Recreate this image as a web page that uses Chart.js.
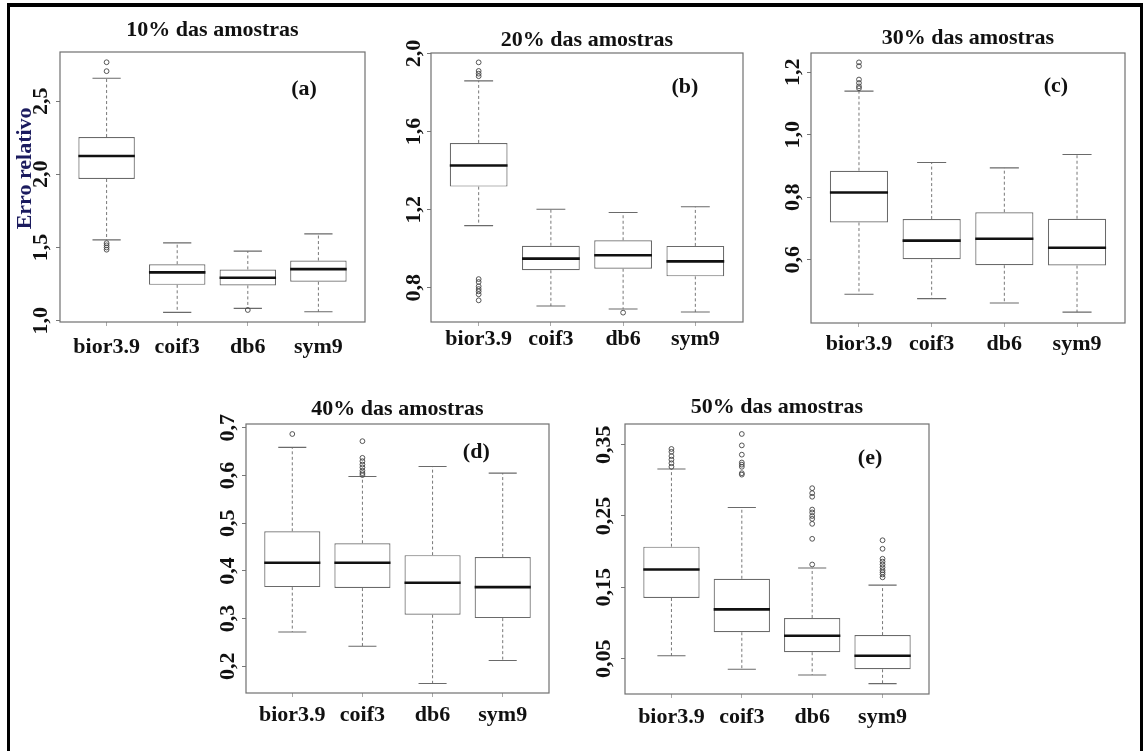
<!DOCTYPE html>
<html>
<head>
<meta charset="utf-8">
<script src="https://cdn.jsdelivr.net/npm/chart.js@4.4.0/dist/chart.umd.min.js"></script>
<style>
  html, body { margin: 0; padding: 0; background: #fff; }
  body { position: relative; width: 1143px; height: 751px; overflow: hidden; }
  #frame {
    position: absolute; left: 7px; top: 3px; right: 0; bottom: -10px;
    border-style: solid; border-color: #000; border-width: 4px 3px 0 3px;
  }
  canvas { position: absolute; }
</style>
</head>
<body>
<div id="frame"></div>

<script>
var categories = ['bior3.9', 'coif3', 'db6', 'sym9'];

// 10% das amostras
var lo10 = [1.552, 1.057, 1.084, 1.061];
var q1_10 = [1.968, 1.245, 1.241, 1.266];
var med10 = [2.125, 1.330, 1.293, 1.352];
var q3_10 = [2.255, 1.386, 1.350, 1.411];
var hi10 = [2.657, 1.532, 1.475, 1.593];
var out10 = [[2.766, 2.705, 1.530, 1.515, 1.500, 1.485], [], [1.073], []];
var ticks10 = [1.0, 1.5, 2.0, 2.5];

// 20% das amostras
var lo20 = [1.118, 0.706, 0.691, 0.675];
var q1_20 = [1.318, 0.889, 0.897, 0.858];
var med20 = [1.426, 0.949, 0.966, 0.935];
var q3_20 = [1.542, 1.015, 1.043, 1.014];
var hi20 = [1.860, 1.202, 1.185, 1.215];
var out20 = [[1.955, 1.911, 1.897, 1.884, 0.844, 0.829, 0.807, 0.793, 0.781, 0.766, 0.735], [], [0.672], []];
var ticks20 = [0.8, 1.2, 1.6, 2.0];

// 30% das amostras
var lo30 = [0.489, 0.475, 0.461, 0.432];
var q1_30 = [0.719, 0.601, 0.582, 0.581];
var med30 = [0.815, 0.661, 0.667, 0.638];
var q3_30 = [0.885, 0.730, 0.752, 0.731];
var hi30 = [1.140, 0.911, 0.894, 0.937];
var out30 = [[1.232, 1.220, 1.177, 1.166, 1.155, 1.149], [], [], []];
var ticks30 = [0.6, 0.8, 1.0, 1.2];

// 40% das amostras
var lo40 = [0.272, 0.242, 0.164, 0.212];
var q1_40 = [0.366, 0.364, 0.308, 0.301];
var med40 = [0.417, 0.417, 0.375, 0.366];
var q3_40 = [0.483, 0.458, 0.433, 0.429];
var hi40 = [0.659, 0.598, 0.619, 0.605];
var out40 = [[0.687], [0.672, 0.637, 0.630, 0.623, 0.617, 0.610, 0.605, 0.601], [], []];
var ticks40 = [0.2, 0.3, 0.4, 0.5, 0.6, 0.7];

// 50% das amostras
var lo50 = [0.054, 0.035, 0.027, 0.015];
var q1_50 = [0.135, 0.087, 0.059, 0.035];
var med50 = [0.175, 0.119, 0.082, 0.054];
var q3_50 = [0.207, 0.162, 0.107, 0.083];
var hi50 = [0.316, 0.262, 0.177, 0.153];
var out50 = [
  [0.344, 0.340, 0.334, 0.329, 0.324, 0.319],
  [0.365, 0.349, 0.336, 0.325, 0.322, 0.319, 0.310, 0.308],
  [0.289, 0.282, 0.277, 0.259, 0.255, 0.250, 0.246, 0.239, 0.218, 0.182],
  [0.216, 0.204, 0.190, 0.186, 0.182, 0.178, 0.174, 0.171, 0.168, 0.164]
];
var ticks50 = [0.05, 0.15, 0.25, 0.35];

var panelData = [
  { title: '10% das amostras', letter: '(a)', lo: lo10, q1: q1_10, med: med10, q3: q3_10, hi: hi10, out: out10, ticks: ticks10, ymin: 0.991, ymax: 2.836, dec: 1, ylabel: 'Erro relativo' },
  { title: '20% das amostras', letter: '(b)', lo: lo20, q1: q1_20, med: med20, q3: q3_20, hi: hi20, out: out20, ticks: ticks20, ymin: 0.624, ymax: 2.003, dec: 1 },
  { title: '30% das amostras', letter: '(c)', lo: lo30, q1: q1_30, med: med30, q3: q3_30, hi: hi30, out: out30, ticks: ticks30, ymin: 0.397, ymax: 1.262, dec: 1 },
  { title: '40% das amostras', letter: '(d)', lo: lo40, q1: q1_40, med: med40, q3: q3_40, hi: hi40, out: out40, ticks: ticks40, ymin: 0.144, ymax: 0.708, dec: 1 },
  { title: '50% das amostras', letter: '(e)', lo: lo50, q1: q1_50, med: med50, q3: q3_50, hi: hi50, out: out50, ticks: ticks50, ymin: 0.0004, ymax: 0.379, dec: 2 }
];

// page layout: plot box [left, top, right, bottom] in page pixels
var panelLayout = [
  { box: [60, 52, 365, 322], titleY: 30, yGap: 18.3, xPad: 8, letterAt: [0.80, 0.14] },
  { box: [431, 53, 743, 322], titleY: 40, yGap: 16.8, xPad: 0.5, letterAt: [0.814, 0.128] },
  { box: [811, 53, 1125, 323], titleY: 38, yGap: 17.7, xPad: 4, letterAt: [0.78, 0.123] },
  { box: [246, 424, 549, 693], titleY: 409, yGap: 17.9, xPad: 5, letterAt: [0.76, 0.107] },
  { box: [625, 424, 929, 694], titleY: 407, yGap: 20.3, xPad: 6, letterAt: [0.806, 0.126] }
];

var SERIF = '"Liberation Serif", "Times New Roman", serif';
var YW = 50, TOPH = 50, XH = 45, RP = 10, TICKLEN = 4;
var BOXW = 0.8, CAPW = 0.2, MEDW = 0.4;

var measureCtx = document.createElement('canvas').getContext('2d');
function widest(labels) {
  measureCtx.font = 'bold 22px ' + SERIF;
  var w = 0;
  labels.forEach(function (t) { w = Math.max(w, measureCtx.measureText(t).width); });
  return w;
}

function fmt(v, dec) {
  return v.toFixed(dec).replace('.', ',');
}

var framePlugin = {
  id: 'frame',
  afterDatasetsDraw: function (chart, args, opts) {
    var ctx = chart.ctx;
    var a = chart.chartArea;
    ctx.save();
    ctx.strokeStyle = '#707070';
    ctx.lineWidth = 1.2;
    ctx.strokeRect(a.left, a.top, a.right - a.left, a.bottom - a.top);
    ctx.font = 'bold 22px ' + SERIF;
    ctx.fillStyle = '#111';
    ctx.textAlign = 'center';
    ctx.textBaseline = 'middle';
    ctx.fillText(opts.letter, a.left + opts.at[0] * (a.right - a.left), a.top + opts.at[1] * (a.bottom - a.top));
    if (opts.ylabel) {
      ctx.translate(a.left - 35, a.top + 0.431 * (a.bottom - a.top));
      ctx.rotate(-Math.PI / 2);
      ctx.fillStyle = '#1b1b5e';
      ctx.fillText(opts.ylabel, 0, 0);
    }
    ctx.restore();
  }
};

function makePanel(d, lay) {
  var L = lay.box[0], T = lay.box[1], R = lay.box[2], B = lay.box[3];
  var cv = document.createElement('canvas');
  var w = R - L + YW + RP, h = B - T + TOPH + XH;
  cv.width = w; cv.height = h;
  cv.style.left = (L - YW) + 'px';
  cv.style.top = (T - TOPH) + 'px';
  cv.style.width = w + 'px';
  cv.style.height = h + 'px';
  document.body.appendChild(cv);

  var tickLabels = d.ticks.map(function (v) { return fmt(v, d.dec); });
  var yPad = lay.yGap - TICKLEN - widest(tickLabels) / 2;
  var padTop = lay.titleY - (T - TOPH) - 11;

  var boxes = [], whisk = [], caps = [], meds = [], pts = [];
  categories.forEach(function (c, i) {
    var x = i + 1;
    boxes.push({ x: x, y: [d.q1[i], d.q3[i]] });
    whisk.push({ x: x, y: d.q3[i] }, { x: x, y: d.hi[i] }, { x: x, y: null },
               { x: x, y: d.q1[i] }, { x: x, y: d.lo[i] }, { x: x, y: null });
    caps.push({ x: x - CAPW, y: d.hi[i] }, { x: x + CAPW, y: d.hi[i] }, { x: x, y: null },
              { x: x - CAPW, y: d.lo[i] }, { x: x + CAPW, y: d.lo[i] }, { x: x, y: null });
    meds.push({ x: x - MEDW, y: d.med[i] }, { x: x + MEDW, y: d.med[i] }, { x: x, y: null });
    d.out[i].forEach(function (v) { pts.push({ x: x, y: v }); });
  });

  return new Chart(cv, {
    type: 'bar',
    data: {
      datasets: [
        { type: 'bar', data: boxes, backgroundColor: '#ffffff', borderColor: '#6a6a6a', borderWidth: 1.2,
          borderSkipped: false, categoryPercentage: 1, barPercentage: BOXW, grouped: false, order: 5 },
        { type: 'line', data: whisk, borderColor: '#777', borderWidth: 1, borderDash: [3, 2.5],
          pointRadius: 0, spanGaps: false, order: 4 },
        { type: 'line', data: caps, borderColor: '#6a6a6a', borderWidth: 1.1,
          pointRadius: 0, spanGaps: false, order: 3 },
        { type: 'line', data: meds, borderColor: '#111', borderWidth: 2.6,
          pointRadius: 0, spanGaps: false, order: 2 },
        { type: 'scatter', data: pts, pointStyle: 'circle', pointRadius: 2.4, borderWidth: 0.9,
          borderColor: '#444', backgroundColor: 'rgba(0,0,0,0)', order: 1 }
      ]
    },
    options: {
      responsive: false,
      animation: false,
      devicePixelRatio: 1,
      events: [],
      layout: { padding: { left: 0, right: RP, top: 0, bottom: 0 } },
      scales: {
        x: {
          type: 'linear',
          min: 0.34,
          max: 4.66,
          bounds: 'data',
          offset: false,
          afterBuildTicks: function (s) { s.ticks = categories.map(function (c, i) { return { value: i + 1 }; }); },
          afterFit: function (s) { s.height = XH; },
          ticks: {
            autoSkip: false,
            padding: lay.xPad,
            color: '#111',
            font: { family: SERIF, size: 22, weight: 'bold' },
            callback: function (v) { return categories[Math.round(v) - 1]; }
          },
          grid: { offset: false, drawOnChartArea: false, drawTicks: true, tickLength: TICKLEN, color: '#aaa' },
          border: { display: false }
        },
        y: {
          type: 'linear',
          min: d.ymin,
          max: d.ymax,
          bounds: 'data',
          beginAtZero: false,
          afterBuildTicks: function (s) { s.ticks = d.ticks.map(function (v) { return { value: v }; }); },
          afterFit: function (s) { s.width = YW; },
          ticks: {
            autoSkip: false,
            minRotation: 90,
            maxRotation: 90,
            crossAlign: 'center',
            padding: yPad,
            color: '#111',
            font: { family: SERIF, size: 22, weight: 'bold' },
            callback: function (v) { return fmt(v, d.dec); }
          },
          grid: { drawOnChartArea: false, drawTicks: true, tickLength: TICKLEN, color: '#777' },
          border: { display: false }
        }
      },
      plugins: {
        legend: { display: false },
        tooltip: { enabled: false },
        title: {
          display: true,
          text: d.title,
          fullSize: false,
          color: '#111',
          font: { family: SERIF, size: 22, weight: 'bold', lineHeight: 1 },
          padding: { top: padTop, bottom: TOPH - 22 - padTop }
        },
        frame: { letter: d.letter, at: lay.letterAt, ylabel: d.ylabel }
      }
    },
    plugins: [framePlugin]
  });
}

panelData.forEach(function (d, i) { makePanel(d, panelLayout[i]); });
</script>
</body>
</html>
